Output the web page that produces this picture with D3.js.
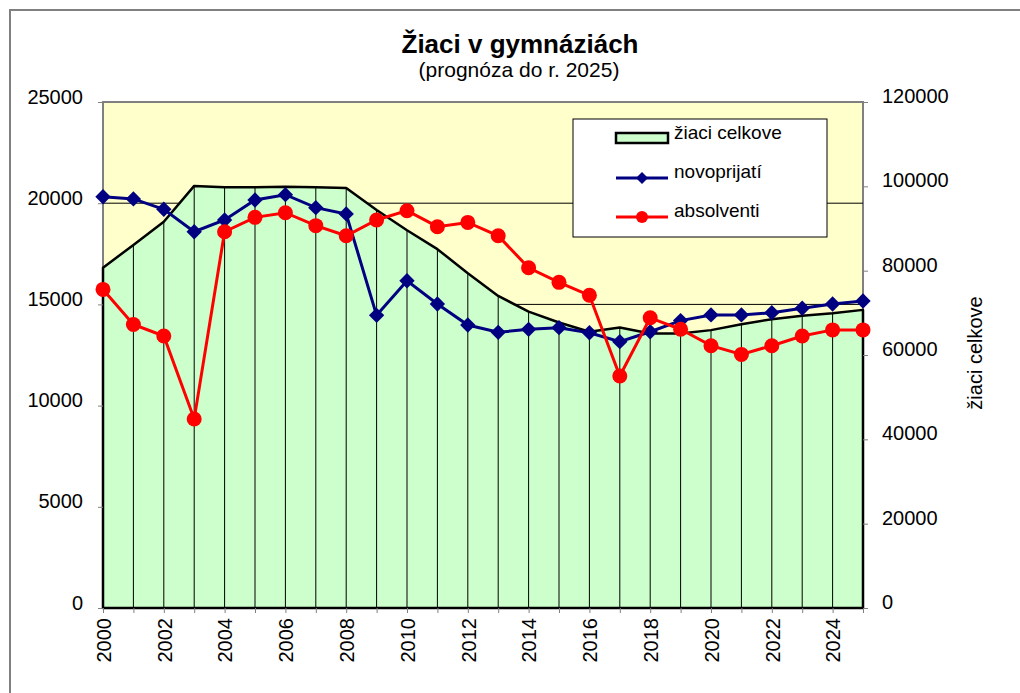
<!DOCTYPE html>
<html lang="sk">
<head>
<meta charset="UTF-8" />
<title>Žiaci v gymnáziách</title>
<script src="https://d3js.org/d3.v7.min.js"></script>
<style>
  body { margin: 0; background: #fff; }
  svg { display: block; font-family: 'Liberation Sans', Arial, sans-serif; }
  .tick text { font-size: 20px; fill: #000; }
  .tick line { stroke: #808080; }
</style>
</head>
<body>
<div id="chart"></div>
<script>
const years = d3.range(2000, 2026);
// žiaci celkove (right axis)
const celkove = [80700, 86100, 91600, 100100, 99800, 99800, 99900, 99800, 99600, 94400,
  89600, 85100, 79400, 74000, 70300, 67700, 65500, 66500, 65100, 65100,
  65900, 67300, 68500, 69300, 69900, 70700];
// novoprijatí (left axis)
const novoprijati = [20320, 20210, 19700, 18590, 19170, 20160, 20420, 19780, 19470, 14460,
  16170, 15020, 13980, 13620, 13770, 13850, 13600, 13160, 13650, 14200,
  14480, 14480, 14590, 14810, 15020, 15170];
// absolventi (left axis)
const absolventi = [15740, 14010, 13440, 9340, 18590, 19300, 19530, 18890, 18390, 19170,
  19630, 18840, 19050, 18390, 16810, 16090, 15450, 11460, 14340, 13770,
  12960, 12530, 12960, 13440, 13740, 13740];
const leftTicks = [0, 5000, 10000, 15000, 20000, 25000];
const rightTicks = [0, 20000, 40000, 60000, 80000, 100000, 120000];
const yearLabels = d3.range(2000, 2026, 2);

const W = 1020, H = 693;
const pLeft = 103, pRight = 863, pTop = 102, pBottom = 608;

const svg = d3.select("#chart").append("svg")
  .attr("width", W).attr("height", H);

// outer chart frame
svg.append("path")
  .attr("d", `M10,${H + 5}V10H${W + 5}`)
  .attr("fill", "none").attr("stroke", "#808080").attr("stroke-width", 2);

const x = d3.scaleLinear().domain([2000, 2025]).range([pLeft, pRight]);
const yL = d3.scaleLinear().domain([0, 25000]).range([pBottom, pTop]);
const yR = d3.scaleLinear().domain([0, 120000]).range([pBottom, pTop]);

// plot background
svg.append("rect")
  .attr("x", pLeft).attr("y", pTop)
  .attr("width", pRight - pLeft).attr("height", pBottom - pTop)
  .attr("fill", "#FFFFCC").attr("stroke", "#808080").attr("stroke-width", 2);

// horizontal gridlines
svg.append("g").selectAll("line")
  .data(leftTicks.filter(d => d > 0 && d < 25000))
  .join("line")
  .attr("x1", pLeft).attr("x2", pRight)
  .attr("y1", d => yL(d)).attr("y2", d => yL(d))
  .attr("stroke", "#000").attr("stroke-width", 1);

// area žiaci celkove
const area = d3.area()
  .x((d, i) => x(years[i]))
  .y0(yR(0))
  .y1(d => yR(d));

svg.append("path")
  .datum(celkove)
  .attr("d", area)
  .attr("fill", "#CCFFCC");

// drop lines
svg.append("g").selectAll("line")
  .data(celkove)
  .join("line")
  .attr("x1", (d, i) => x(years[i])).attr("x2", (d, i) => x(years[i]))
  .attr("y1", d => yR(d)).attr("y2", yR(0))
  .attr("stroke", "#000").attr("stroke-width", 1);

svg.append("path")
  .datum(celkove)
  .attr("d", area)
  .attr("fill", "none")
  .attr("stroke", "#000").attr("stroke-width", 2.5)
  .attr("stroke-linejoin", "round");

// axes
const fmt = d3.format("d");
const axL = svg.append("g")
  .attr("transform", `translate(${pLeft},0)`)
  .call(d3.axisLeft(yL).tickValues(leftTicks).tickFormat(fmt).tickSize(5).tickPadding(15));
axL.select(".domain").remove();
axL.selectAll(".tick text").attr("dy", "0.05em");

const axR = svg.append("g")
  .attr("transform", `translate(${pRight},0)`)
  .call(d3.axisRight(yR).tickValues(rightTicks).tickFormat(fmt).tickSize(5).tickPadding(14));
axR.select(".domain").remove();
axR.selectAll(".tick text").attr("dy", "0.02em");

const axX = svg.append("g")
  .attr("transform", `translate(0,${pBottom})`)
  .call(d3.axisBottom(x).tickValues(years).tickSize(5)
    .tickFormat(d => yearLabels.includes(d) ? d : ""));
axX.select(".domain").remove();
axX.selectAll(".tick text")
  .attr("transform", "rotate(-90)")
  .attr("x", -10).attr("y", 0).attr("dy", "0.36em")
  .style("text-anchor", "end");

// series lines
const lineL = d3.line().x((d, i) => x(years[i])).y(d => yL(d));

svg.append("path").datum(novoprijati)
  .attr("d", lineL).attr("fill", "none")
  .attr("stroke", "#000080").attr("stroke-width", 3);
svg.append("g").selectAll("path")
  .data(novoprijati)
  .join("path")
  .attr("transform", (d, i) => `translate(${x(years[i])},${yL(d)})`)
  .attr("d", d3.symbol(d3.symbolDiamond2, 150))
  .attr("fill", "#000080");

svg.append("path").datum(absolventi)
  .attr("d", lineL).attr("fill", "none")
  .attr("stroke", "#FF0000").attr("stroke-width", 3);
svg.append("g").selectAll("circle")
  .data(absolventi)
  .join("circle")
  .attr("cx", (d, i) => x(years[i])).attr("cy", d => yL(d))
  .attr("r", 7.5).attr("fill", "#FF0000");

// titles
svg.append("text")
  .attr("x", 520).attr("y", 53)
  .attr("text-anchor", "middle")
  .style("font-size", "26px").style("font-weight", "bold")
  .text("Žiaci v gymnáziách");
svg.append("text")
  .attr("x", 519).attr("y", 77)
  .attr("text-anchor", "middle")
  .style("font-size", "21px")
  .text("(prognóza do r. 2025)");
svg.append("text")
  .attr("transform", "translate(982,353) rotate(-90)")
  .attr("text-anchor", "middle")
  .style("font-size", "20px")
  .text("žiaci celkove");

// legend
const lg = svg.append("g");
lg.append("rect")
  .attr("x", 573).attr("y", 119).attr("width", 254).attr("height", 118)
  .attr("fill", "#fff").attr("stroke", "#000").attr("stroke-width", 1);
lg.append("rect")
  .attr("x", 616).attr("y", 133).attr("width", 52).attr("height", 10)
  .attr("fill", "#CCFFCC").attr("stroke", "#000").attr("stroke-width", 2.5);
lg.append("line")
  .attr("x1", 616).attr("x2", 668).attr("y1", 178).attr("y2", 178)
  .attr("stroke", "#000080").attr("stroke-width", 3);
lg.append("path")
  .attr("transform", "translate(642,178)")
  .attr("d", d3.symbol(d3.symbolDiamond2, 92))
  .attr("fill", "#000080");
lg.append("line")
  .attr("x1", 616).attr("x2", 668).attr("y1", 217).attr("y2", 217)
  .attr("stroke", "#FF0000").attr("stroke-width", 3);
lg.append("circle")
  .attr("cx", 642).attr("cy", 217).attr("r", 6)
  .attr("fill", "#FF0000");
lg.selectAll("text.lbl")
  .data([["žiaci celkove", 132], ["novoprijatí", 171], ["absolventi", 210]])
  .join("text")
  .attr("class", "lbl")
  .attr("x", 674).attr("y", d => d[1]).attr("dy", "0.35em")
  .style("font-size", "19px")
  .text(d => d[0]);
</script>
</body>
</html>
